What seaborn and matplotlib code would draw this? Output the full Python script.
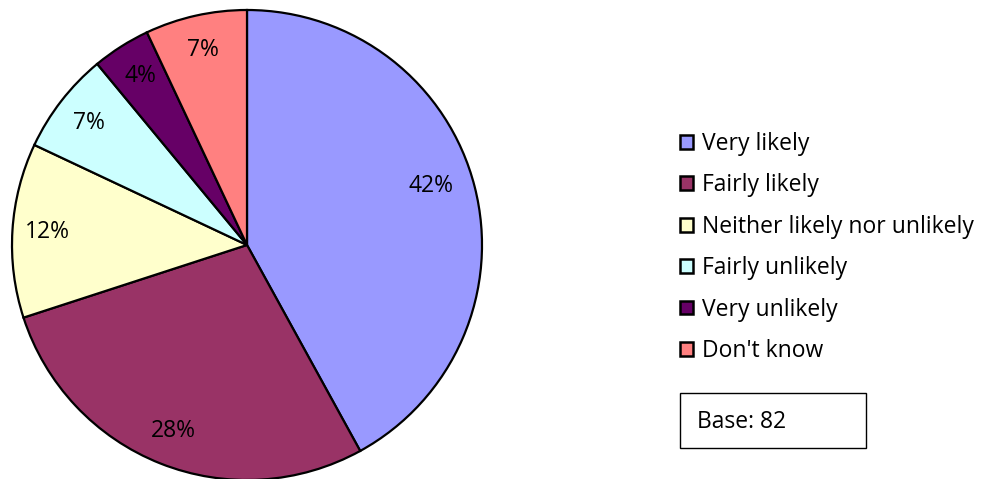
#!/usr/bin/env python3
"""Likelihood pie chart with legend and base box."""

import matplotlib.pyplot as plt
import seaborn as sns
from matplotlib.patches import Patch, Rectangle

CATEGORIES = [
    "Very likely",
    "Fairly likely",
    "Neither likely nor unlikely",
    "Fairly unlikely",
    "Very unlikely",
    "Don't know",
]
SHARES = [42, 28, 12, 7, 4, 7]
COLORS = ["#9999FF", "#993366", "#FFFFCC", "#CCFFFF", "#660066", "#FF8080"]
BASE_TEXT = "Base: 82"

W, H = 986, 479
FS = 16.5


def main() -> None:
    sns.set_theme(style="white")
    plt.rcParams["font.family"] = ["Open Sans", "DejaVu Sans"]
    plt.rcParams["text.color"] = "black"

    fig = plt.figure(figsize=(W / 100, H / 100), dpi=100)
    cx, cy, r = 247, 245, 235
    ax = fig.add_axes([(cx - r) / W, (H - cy - r) / H, 2 * r / W, 2 * r / H])

    wedges, _, autotexts = ax.pie(
        SHARES,
        colors=COLORS,
        startangle=90,
        counterclock=False,
        radius=1,
        autopct=lambda p: f"{p:.0f}%",
        pctdistance=0.85,
        wedgeprops={"edgecolor": "black", "linewidth": 1.6},
        textprops={"fontsize": FS, "color": "black"},
    )
    # Excel nudges the big slice label a little towards the top
    x0, y0 = autotexts[0].get_position()
    autotexts[0].set_position((x0 - 0.04, y0 + 0.04))
    ax.set_xlim(-1, 1)
    ax.set_ylim(-1, 1)
    ax.set_axis_off()

    handles = [Patch(facecolor=c, edgecolor="black", linewidth=1.8) for c in COLORS]
    fig.legend(
        handles,
        CATEGORIES,
        loc="upper left",
        bbox_to_anchor=(680 / W, 1 - 132 / H),
        frameon=False,
        fontsize=FS,
        handlelength=0.55,
        handleheight=0.55,
        handletextpad=0.4,
        labelspacing=0.76,
        borderaxespad=0,
        borderpad=0,
    )

    fig.patches.append(
        Rectangle(
            (680 / W, 1 - 448 / H),
            186 / W,
            55 / H,
            transform=fig.transFigure,
            facecolor="white",
            edgecolor="black",
            linewidth=1.0,
        )
    )
    fig.text(697 / W, 1 - 422 / H, BASE_TEXT, fontsize=FS, va="center", ha="left")

    fig.savefig("out.png", dpi=100)
    plt.close(fig)


if __name__ == "__main__":
    main()
